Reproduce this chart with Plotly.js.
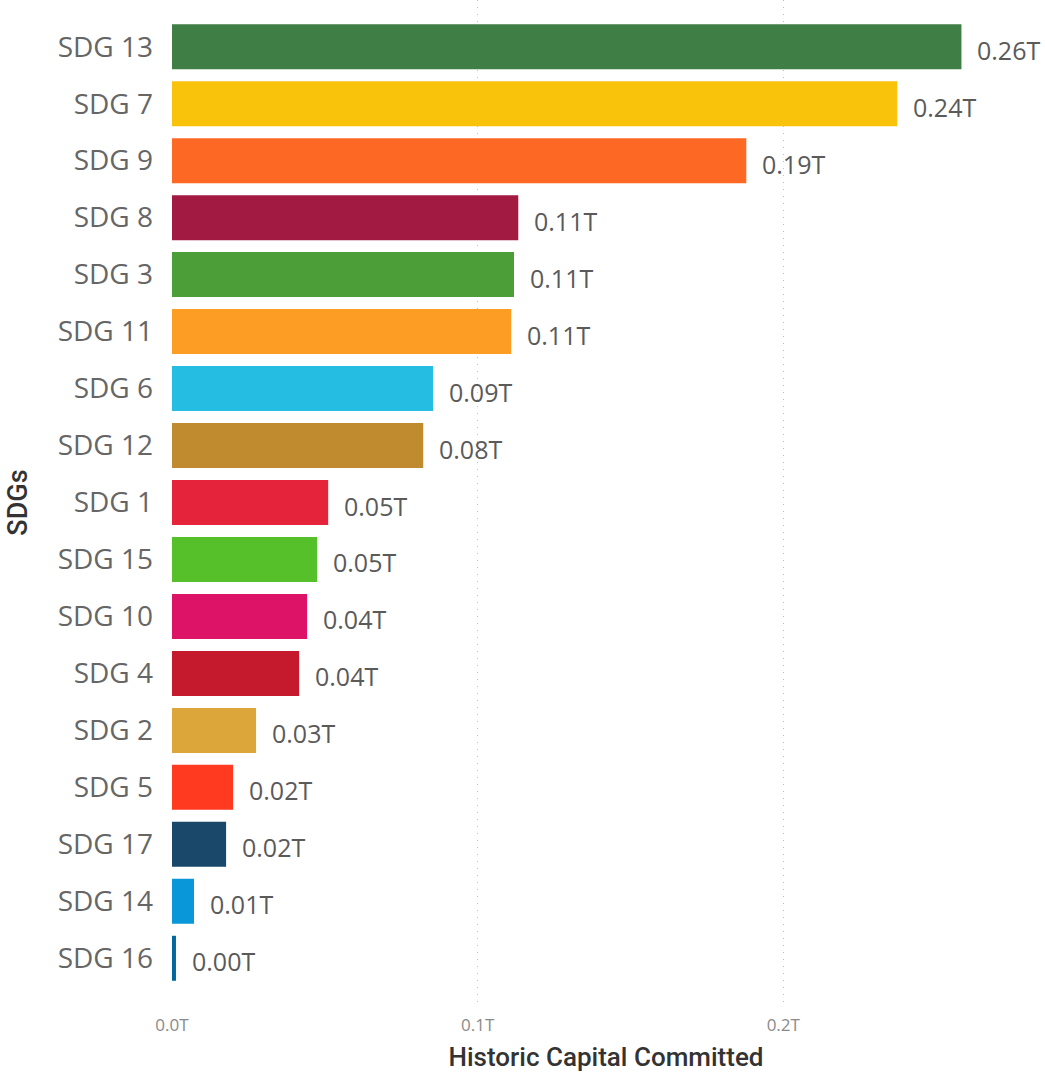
<!DOCTYPE html>
<html>
<head>
<meta charset="utf-8">
<script src="https://cdn.plot.ly/plotly-3.0.1.min.js"></script>
<style>
  html, body { margin: 0; padding: 0; background: #ffffff; }
  #chart { width: 1045px; height: 1077px; }
</style>
</head>
<body>
<div id="chart"></div>
<script>
// Categories (top to bottom)
const categories = ["SDG 13", "SDG 7", "SDG 9", "SDG 8", "SDG 3", "SDG 11", "SDG 6", "SDG 12",
  "SDG 1", "SDG 15", "SDG 10", "SDG 4", "SDG 2", "SDG 5", "SDG 17", "SDG 14", "SDG 16"];
// Historic capital committed, in trillions
const capitalT = [0.2583, 0.2373, 0.1879, 0.1133, 0.1119, 0.1110, 0.0854, 0.0822,
  0.0511, 0.0475, 0.0442, 0.0416, 0.0275, 0.0200, 0.0177, 0.0072, 0.0013];
// SDG colours
const barColors = ["#3F7E44", "#F9C20B", "#FD6925", "#A21942", "#4C9F38", "#FD9D24", "#26BDE2", "#BF8B2E",
  "#E5243B", "#56C02B", "#DD1367", "#C5192D", "#DDA63A", "#FF3A21", "#19486A", "#0A97D9", "#00689D"];
const xTickVals = [0, 0.1, 0.2];
const xTickText = ["0.0T", "0.1T", "0.2T"];

const trace = {
  type: "bar",
  orientation: "h",
  x: capitalT,
  y: categories,
  marker: { color: barColors, line: { width: 0 } },
  hoverinfo: "none"
};

const annotations = categories.map((c, i) => ({
  x: capitalT[i],
  y: c,
  xref: "x",
  yref: "y",
  text: capitalT[i].toFixed(2) + "T",
  showarrow: false,
  xanchor: "left",
  yanchor: "middle",
  xshift: 14,
  yshift: -3,
  font: { family: "Open Sans, sans-serif", size: 25, color: "#5a5a5a" }
}));

const layout = {
  width: 1045,
  height: 1077,
  margin: { l: 172, r: 5, t: 0, b: 72 },
  paper_bgcolor: "#ffffff",
  plot_bgcolor: "#ffffff",
  showlegend: false,
  bargap: 0.21,
  xaxis: {
    range: [0, 0.284],
    tickvals: xTickVals,
    ticktext: xTickText,
    showgrid: true,
    gridcolor: "#bdbdbd",
    griddash: "1px,6px",
    gridwidth: 1,
    zeroline: false,
    showline: false,
    ticks: "",
    tickfont: { family: "Open Sans, sans-serif", size: 17, color: "#8a8a8a" },
    ticklabelstandoff: 8,
    title: {
      text: "Historic Capital Committed",
      font: { family: "Roboto, sans-serif", size: 26, color: "#333333", weight: 500 },
      standoff: 12
    },
    fixedrange: true
  },
  yaxis: {
    type: "category",
    range: [16.82, -0.82],
    showgrid: false,
    zeroline: false,
    showline: false,
    ticks: "",
    ticklabelstandoff: 18,
    tickfont: { family: "Open Sans, sans-serif", size: 28, color: "#666666" },
    title: {
      text: "SDGs",
      font: { family: "Roboto, sans-serif", size: 27, color: "#333333", weight: 500 },
      standoff: 22
    },
    fixedrange: true
  },
  annotations: annotations
};

Plotly.newPlot("chart", [trace], layout, { displayModeBar: false, staticPlot: true });
</script>
</body>
</html>
